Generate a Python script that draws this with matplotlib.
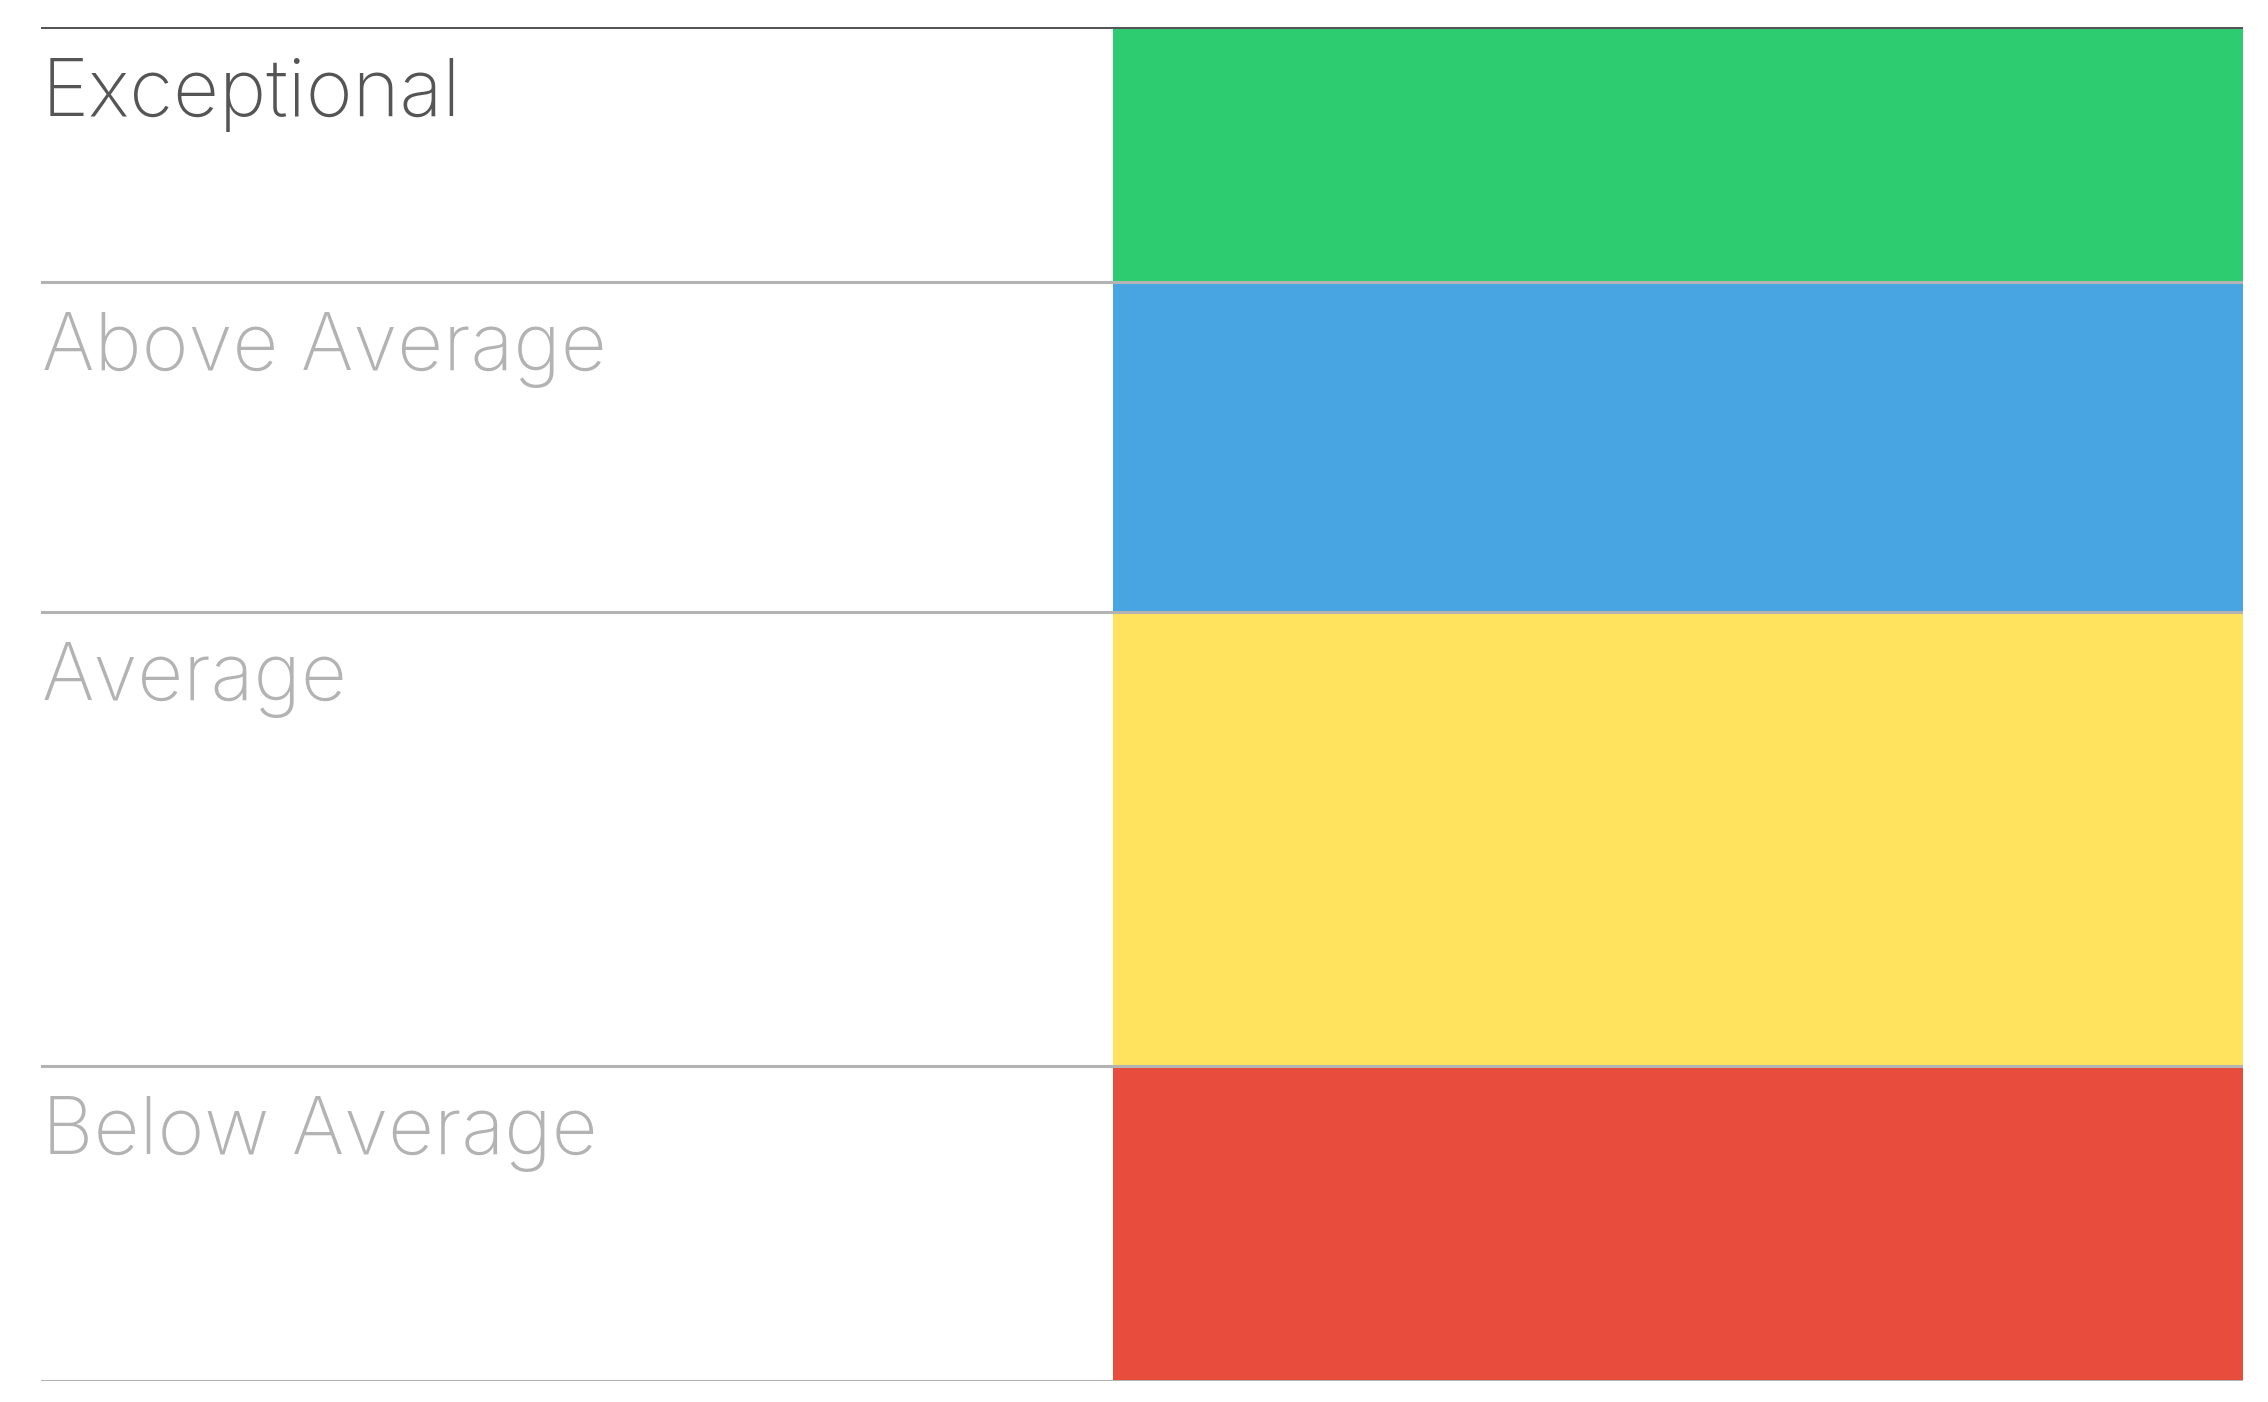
import matplotlib.pyplot as plt
import numpy as np

# Rating bands, top to bottom, with their share of the column
categories = ["Exceptional", "Above Average", "Average", "Below Average"]
shares = [18.8, 24.4, 33.5, 23.3]
colors = ["#2ecc71", "#49a5e2", "#ffe25e", "#e74c3c"]
text_colors = ["#555555", "#b3b3b3", "#b3b3b3", "#b3b3b3"]

plt.rcParams["font.family"] = ["Inter", "DejaVu Sans"]

fig = plt.figure(figsize=(22.68, 14.02), dpi=100)
ax = fig.add_axes([41 / 2268, 1 - 1381 / 1402, (2243 - 41) / 2268, (1381 - 27) / 1402])

total = sum(shares)
tops = total - np.concatenate([[0], np.cumsum(shares)[:-1]])
bottoms = tops - np.array(shares)

# coloured column on the right half
ax.bar(
    [0.7435] * len(shares),
    shares,
    bottom=bottoms,
    width=0.513,
    color=colors,
    linewidth=0,
    zorder=1,
)

# row separators
for y in bottoms:
    ax.axhline(y, color="#b3b3b3", linewidth=2.2, zorder=2)
ax.axhline(total, color="#555555", linewidth=2.2, zorder=3)

# row labels
for name, top, tc in zip(categories, tops, text_colors):
    ax.annotate(
        name,
        xy=(0, top),
        xytext=(0.5, -22),
        textcoords="offset points",
        ha="left",
        va="top",
        fontsize=57.5,
        fontweight=200,
        color=tc,
    )

ax.set_xlim(0, 1)
ax.set_ylim(0, total)
ax.axis("off")

fig.savefig("out.png", dpi=100)
